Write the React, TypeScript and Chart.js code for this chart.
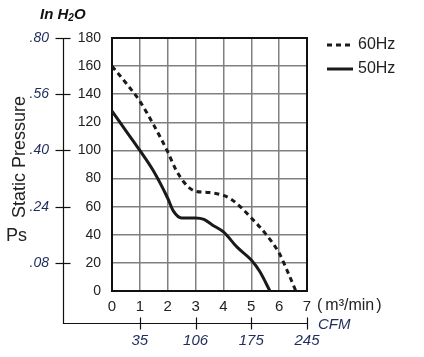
import React, { useEffect, useRef } from 'react';
import { Chart, registerables } from 'chart.js';

Chart.register(...registerables);

// ---- data ----
const flow60 = [0, 0.5, 1, 1.5, 2, 2.3, 2.6, 2.8, 3, 3.5, 4, 4.3, 4.6, 5, 5.5, 6, 6.3, 6.6];
const ps60 = [160, 148, 135, 118, 99, 86, 77, 73, 71, 70, 68, 65, 60, 52, 41, 27, 14, 0];
const flow50 = [0, 0.5, 1, 1.5, 2, 2.2, 2.5, 3, 3.3, 3.6, 4, 4.5, 5, 5.3, 5.67];
const ps50 = [128, 114, 100, 85, 66, 57, 52, 52, 51, 47, 42, 31, 22, 14, 0];
const seriesLabels = ['60Hz', '50Hz'];
const inH2OTicks = [20, 60, 100, 140, 180];
const inH2OLabels = ['.08', '.24', '.40', '.56', '.80'];
const cfmTicks = [1, 3, 5, 7];
const cfmLabels = ['35', '106', '175', '245'];

const FONT = "'Liberation Sans', Arial, sans-serif";
const NAVY = '#1f2c5c';
const TEXT = '#222222';
const GRID = '#808080';

const decor = {
  id: 'decor',
  beforeDatasetsDraw(chart: any) {
    const { ctx, chartArea: a } = chart;
    ctx.save();
    ctx.strokeStyle = '#111';
    ctx.lineWidth = 2;
    ctx.strokeRect(a.left, a.top, a.right - a.left, a.bottom - a.top);
    ctx.restore();
  },
  afterDraw(chart: any) {
    const { ctx, chartArea: a } = chart;
    const y2 = chart.scales.y2;
    const x = chart.scales.x;
    const x2 = chart.scales.x2;
    const lx = Math.round(y2.right) + 0.5;
    const by = Math.round(x2.top) + 0.5;
    ctx.save();
    ctx.strokeStyle = '#111';
    ctx.lineWidth = 1.2;
    ctx.beginPath();
    ctx.moveTo(lx, a.top);
    ctx.lineTo(lx, by);
    ctx.lineTo(x.getPixelForValue(7), by);
    ctx.stroke();
    // left outer ticks
    inH2OTicks.forEach((v) => {
      const py = Math.round(y2.getPixelForValue(v)) + 0.5;
      ctx.beginPath();
      ctx.moveTo(lx - 8, py);
      ctx.lineTo(lx + 7, py);
      ctx.stroke();
    });
    // bottom CFM ticks
    cfmTicks.forEach((v) => {
      const px = Math.round(x2.getPixelForValue(v)) + 0.5;
      ctx.beginPath();
      ctx.moveTo(px, by - 6);
      ctx.lineTo(px, by + 6);
      ctx.stroke();
    });

    // texts
    ctx.textBaseline = 'middle';
    ctx.textAlign = 'left';
    // In H2O
    ctx.fillStyle = '#111';
    ctx.font = `italic bold 15px ${FONT}`;
    let tx = 40;
    ctx.fillText('In H', tx, 15);
    tx += ctx.measureText('In H').width;
    ctx.font = `italic bold 10px ${FONT}`;
    ctx.fillText('2', tx, 18);
    tx += ctx.measureText('2').width;
    ctx.font = `italic bold 15px ${FONT}`;
    ctx.fillText('O', tx, 15);

    // Static Pressure
    ctx.fillStyle = TEXT;
    ctx.font = `18px ${FONT}`;
    ctx.save();
    ctx.translate(20, 157);
    ctx.rotate(-Math.PI / 2);
    ctx.textAlign = 'center';
    ctx.fillText('Static Pressure', 0, 0);
    ctx.restore();
    ctx.font = `18px ${FONT}`;
    ctx.fillText('Ps', 6, 236);

    // unit  (m³/min)
    const x7 = x.getPixelForValue(7);
    ctx.font = `16px ${FONT}`;
    let ux = x7 + 10;
    ctx.fillText('(', ux, 306);
    ux += ctx.measureText('(').width + 3;
    ctx.fillText('m³/min', ux, 306);
    ux += ctx.measureText('m³/min').width + 2;
    ctx.fillText(')', ux, 306);

    // CFM
    ctx.fillStyle = NAVY;
    ctx.font = `italic 15px ${FONT}`;
    ctx.fillText('CFM', x7 + 11, by + 1);

    // legend
    chart.data.datasets.forEach((ds: any, i: number) => {
      const ly = 45 + 24 * i;
      ctx.save();
      ctx.strokeStyle = ds.borderColor;
      ctx.lineWidth = ds.borderWidth;
      ctx.setLineDash(ds.borderDash || []);
      ctx.beginPath();
      ctx.moveTo(327, ly);
      ctx.lineTo(353, ly);
      ctx.stroke();
      ctx.restore();
      ctx.fillStyle = TEXT;
      ctx.font = `16px ${FONT}`;
      ctx.fillText(ds.label, 358, ly);
    });
    ctx.restore();
  },
};

export default function App() {
  const ref = useRef<HTMLCanvasElement>(null);
  useEffect(() => {
    document.body.style.margin = '0';
    const canvas = ref.current!;
    const chart = new Chart(canvas, {
      type: 'line',
      data: {
        datasets: [
          {
            label: seriesLabels[0],
            data: flow60.map((f, i) => ({ x: f, y: ps60[i] })),
            borderColor: '#1a1a1a',
            borderWidth: 3,
            borderDash: [5, 4],
            pointRadius: 0,
            cubicInterpolationMode: 'monotone',
            fill: false,
          },
          {
            label: seriesLabels[1],
            data: flow50.map((f, i) => ({ x: f, y: ps50[i] })),
            borderColor: '#1a1a1a',
            borderWidth: 3,
            pointRadius: 0,
            cubicInterpolationMode: 'monotone',
            fill: false,
          },
        ],
      },
      options: {
        animation: false,
        responsive: false,
        devicePixelRatio: 1,
        layout: { padding: { top: 38, right: 117, left: 0, bottom: 0 } },
        plugins: { legend: { display: false }, tooltip: { enabled: false } },
        scales: {
          x: {
            type: 'linear',
            position: 'bottom',
            min: 0,
            max: 7,
            ticks: { stepSize: 1, color: TEXT, font: { size: 15, family: FONT }, padding: 7, maxRotation: 0 },
            grid: { color: GRID, lineWidth: 1.5, drawTicks: false },
            border: { display: false },
            afterFit(s: any) { s.height = 32; },
          },
          x2: {
            type: 'linear',
            position: 'bottom',
            min: 0,
            max: 7,
            afterBuildTicks(s: any) { s.ticks = cfmTicks.map((v) => ({ value: v })); },
            ticks: {
              autoSkip: false,
              maxRotation: 0,
              color: NAVY,
              font: { size: 15, family: FONT, style: 'italic' },
              padding: 9,
              callback: (v: any) => cfmLabels[cfmTicks.indexOf(Number(v))],
            },
            grid: { display: false, drawTicks: false },
            border: { display: false },
            afterFit(s: any) { s.height = 34; },
          },
          y: {
            type: 'linear',
            position: 'left',
            min: 0,
            max: 180,
            ticks: { stepSize: 20, color: TEXT, font: { size: 14, family: FONT }, padding: 11 },
            grid: { color: GRID, lineWidth: 1.5, drawTicks: false },
            border: { display: false },
            afterFit(s: any) { s.width = 49; },
          },
          y2: {
            type: 'linear',
            position: 'left',
            min: 0,
            max: 180,
            afterBuildTicks(s: any) { s.ticks = inH2OTicks.map((v) => ({ value: v })); },
            ticks: {
              autoSkip: false,
              color: NAVY,
              font: { size: 14, family: FONT, style: 'italic' },
              padding: 14,
              callback: (v: any) => inH2OLabels[inH2OTicks.indexOf(Number(v))],
            },
            grid: { display: false, drawTicks: false },
            border: { display: false },
            afterFit(s: any) { s.width = 63; },
          },
        },
      },
      plugins: [decor],
    } as any);
    return () => chart.destroy();
  }, []);
  return (
    <div style={{ width: 424, height: 357 }}>
      <canvas ref={ref} width={424} height={357} />
    </div>
  );
}
